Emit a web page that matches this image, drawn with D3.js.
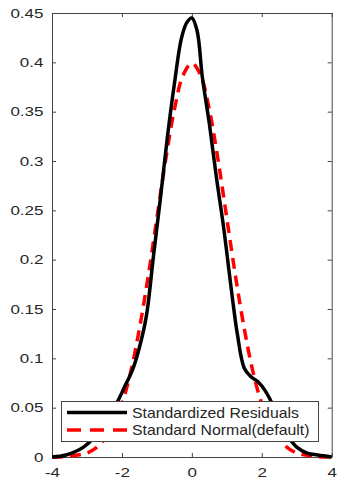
<!DOCTYPE html>
<html>
<head>
<meta charset="utf-8">
<script src="https://cdn.jsdelivr.net/npm/d3@7"></script>
<style>
  body { margin: 0; background: #fff; }
  svg { display: block; font-family: "Liberation Sans", Arial, sans-serif; }
</style>
</head>
<body>
<svg id="chart" width="340" height="480"></svg>
<script>
// kernel density of the standardized residuals
const residX = [-4, -3.6, -3.1, -2.7, -2.4, -2.1, -1.9, -1.7, -1.5, -1.3, -1.1, -0.9, -0.7, -0.5, -0.3, -0.15, 0,
  0.15, 0.3, 0.5, 0.7, 0.9, 1.1, 1.2, 1.3, 1.5, 1.7, 1.9, 2.1, 2.4, 2.7, 3.0, 3.3, 3.6, 4];
const residY = [0, 0.002, 0.010, 0.024, 0.040, 0.058, 0.073, 0.088, 0.111, 0.143, 0.203, 0.262, 0.324, 0.378, 0.424, 0.440, 0.445,
  0.432, 0.385, 0.338, 0.284, 0.235, 0.178, 0.150, 0.125, 0.090, 0.081, 0.076, 0.067, 0.047, 0.024, 0.010, 0.004, 0.002, 0];

// standard normal reference curve
const normX = [-4, -3.75, -3.5, -3.25, -3, -2.75, -2.5, -2.25, -2, -1.75, -1.5, -1.25, -1, -0.75, -0.5, -0.25, 0,
  0.25, 0.5, 0.75, 1, 1.25, 1.5, 1.75, 2, 2.25, 2.5, 2.75, 3, 3.25, 3.5, 3.75, 4];
const normY = [0, 0, 0.001, 0.002, 0.004, 0.009, 0.018, 0.032, 0.054, 0.086, 0.130, 0.183, 0.242, 0.301, 0.352, 0.387, 0.399,
  0.387, 0.352, 0.301, 0.242, 0.183, 0.130, 0.086, 0.054, 0.032, 0.018, 0.009, 0.004, 0.002, 0.001, 0, 0];

const xTicks = [-4, -2, 0, 2, 4];
const xTickLabels = ["-4", "-2", "0", "2", "4"];
const yTicks = [0, 0.05, 0.1, 0.15, 0.2, 0.25, 0.3, 0.35, 0.4, 0.45];
const yTickLabels = ["0", "0.05", "0.1", "0.15", "0.2", "0.25", "0.3", "0.35", "0.4", "0.45"];
const legendLabels = ["Standardized Residuals", "Standard Normal(default)"];

const margin = {top: 13, right: 8.3, bottom: 23, left: 52};
const width = 340, height = 480;
const axisColour = "#444";
const textColour = "#262626";

const svg = d3.select("#chart");

const x = d3.scaleLinear().domain([-4, 4]).range([margin.left, width - margin.right]);
const y = d3.scaleLinear().domain([0, 0.45]).range([height - margin.bottom, margin.top]);

// widen text horizontally around its anchor (the original text is stretched)
function stretch(sel, k) {
  sel.each(function() {
    const t = d3.select(this);
    const ax = +t.attr("x") || 0;
    t.attr("transform", `translate(${ax * (1 - k)},0) scale(${k},1)`);
  });
}

// axes (box with inward ticks, MATLAB style)
const styleAxis = g => g
  .call(g => g.select(".domain").attr("stroke", axisColour))
  .call(g => g.selectAll(".tick line").attr("stroke", axisColour))
  .call(g => g.selectAll("text").attr("fill", textColour).attr("font-size", 13.5));

svg.append("g")
  .attr("transform", `translate(0,${y(0)})`)
  .call(d3.axisBottom(x).tickValues(xTicks).tickFormat((d, i) => xTickLabels[i]).tickSizeInner(-4).tickSizeOuter(0).tickPadding(10.5))
  .call(styleAxis);

svg.append("g")
  .attr("transform", `translate(0,${y(0.45)})`)
  .call(d3.axisTop(x).tickValues(xTicks).tickFormat("").tickSizeInner(-4).tickSizeOuter(0))
  .call(styleAxis);

svg.append("g")
  .attr("transform", `translate(${x(-4)},0)`)
  .call(d3.axisLeft(y).tickValues(yTicks).tickFormat((d, i) => yTickLabels[i]).tickSizeInner(-4).tickSizeOuter(0).tickPadding(8.5))
  .call(styleAxis);

svg.append("g")
  .attr("transform", `translate(${x(4)},0)`)
  .call(d3.axisRight(y).tickValues(yTicks).tickFormat("").tickSizeInner(-4).tickSizeOuter(0))
  .call(styleAxis);

svg.selectAll(".tick text").call(stretch, 1.26);

// curves
const line = d3.line()
  .x(d => x(d[0]))
  .y(d => y(d[1]))
  .curve(d3.curveCatmullRom.alpha(0.5));

svg.append("path")
  .datum(normX.map((v, i) => [v, normY[i]]))
  .attr("d", line)
  .attr("fill", "none")
  .attr("stroke", "#ff0000")
  .attr("stroke-width", 3.5)
  .attr("stroke-dasharray", "11,7");

svg.append("path")
  .datum(residX.map((v, i) => [v, residY[i]]))
  .attr("d", line)
  .attr("fill", "none")
  .attr("stroke", "#000")
  .attr("stroke-width", 3.5);

// legend
const legend = svg.append("g");
legend.append("rect")
  .attr("x", 61.5).attr("y", 401.5)
  .attr("width", 257).attr("height", 40)
  .attr("fill", "#fff")
  .attr("stroke", axisColour);

const legendStyles = [
  {stroke: "#000", dash: null},
  {stroke: "#ff0000", dash: "14,9"}
];

legendLabels.forEach((label, i) => {
  const ly = 412.5 + i * 17.5;
  legend.append("line")
    .attr("x1", 67).attr("x2", 127)
    .attr("y1", ly).attr("y2", ly)
    .attr("stroke", legendStyles[i].stroke)
    .attr("stroke-width", 3.5)
    .attr("stroke-dasharray", legendStyles[i].dash);
  legend.append("text")
    .attr("x", 132)
    .attr("y", ly + 5.5)
    .attr("font-size", 14)
    .attr("fill", textColour)
    .text(label)
    .call(stretch, 1.13);
});
</script>
</body>
</html>
